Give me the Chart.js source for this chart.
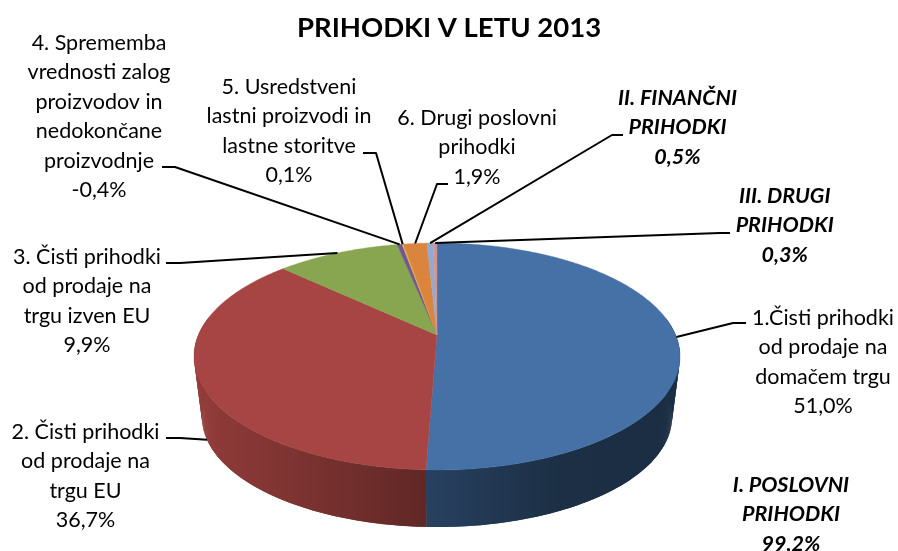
<!DOCTYPE html>
<html>
<head>
<meta charset="utf-8">
<style>html,body{margin:0;padding:0;background:#fff}canvas{display:block}</style>
<script src="https://cdn.jsdelivr.net/npm/chart.js@4"></script>
</head>
<body>
<canvas id="c" width="898" height="551"></canvas>
<script>
const chartTitle = "PRIHODKI V LETU 2013";
const categories = [
  ["1.Čisti prihodki","od prodaje na","domačem trgu"],
  ["2. Čisti prihodki","od prodaje na","trgu EU"],
  ["3. Čisti prihodki","od prodaje na","trgu izven EU"],
  ["4. Sprememba","vrednosti zalog","proizvodov in","nedokončane","proizvodnje"],
  ["5. Usredstveni","lastni proizvodi in","lastne storitve"],
  ["6. Drugi poslovni","prihodki"],
  ["II. FINANČNI","PRIHODKI"],
  ["III. DRUGI","PRIHODKI"]
];
const values = [51.0, 36.7, 9.9, -0.4, 0.1, 1.9, 0.5, 0.3];
const colors = ["#4571a6","#a64543","#88a54f","#71578f","#e3b83c","#db843d","#93a9cf","#d19392"];
const summaryLines = ["I. POSLOVNI","PRIHODKI","99,2%"];

/* layout only */
const labelCenters = [[823,318],[85.5,432],[87,257],[99,43],[289,87],[477,118],[677.5,98],[784.7,196]];
const leaderElbows = [[[746,323],[733,323]],[[166,438],[180,438]],[[166,263],[180,263]],[[162,167],[175,167]],[[363,153],[376,153]],[[448,184],[437,184]],[[623,135],[612,135]],[[730,233],[720,233]]];
const summaryCenter = [791,485];
const boldFrom = 6, LINE = 29.4, FONT = "Lato, Carlito, sans-serif", TEXT_SIZE = 21.5;
const P = {cx:437, cy:335, rx:238.6, ry:109.4, k:0.1894, s:0.967, drop:61.5};
const shadeStops = [[0,0.88],[0.48,0.58],[0.75,0.42],[1,0.40]];

function project(a, bottom){
  const u = Math.cos(a), v = Math.sin(a), w = 1 - P.k*v;
  const s = bottom ? P.s : 1, d = bottom ? P.drop : 0;
  return [P.cx + s*P.rx*u/w, P.cy + d + s*P.ry*v/w];
}
function shade(hex,f){
  const n = parseInt(hex.slice(1),16);
  return `rgb(${((n>>16)&255)*f|0},${((n>>8)&255)*f|0},${(n&255)*f|0})`;
}
function rim(ctx,a0,a1,bottom,first){
  const n = Math.max(2,Math.ceil(Math.abs(a1-a0)/0.008));
  for(let i=0;i<=n;i++){
    const p = project(a0+(a1-a0)*i/n,bottom);
    if(i===0&&first) ctx.moveTo(p[0],p[1]); else ctx.lineTo(p[0],p[1]);
  }
}
const pie3d = {
  id:"pie3d",
  beforeDatasetsDraw(chart){
    const ctx = chart.ctx, arcs = chart.getDatasetMeta(0).data;
    ctx.save();
    const left = P.cx-P.rx*1.02, right = P.cx+P.rx*1.02;
    arcs.forEach((arc,i)=>{
      const g = ctx.createLinearGradient(left,0,right,0);
      shadeStops.forEach(s=>g.addColorStop(s[0],shade(colors[i],s[1])));
      ctx.fillStyle = g;
      const n = Math.max(1,Math.ceil((arc.endAngle-arc.startAngle)/0.01));
      for(let q=0;q<n;q++){
        const a0 = arc.startAngle+(arc.endAngle-arc.startAngle)*q/n;
        const a1 = arc.startAngle+(arc.endAngle-arc.startAngle)*Math.min(n,q+2)/n;
        if(Math.sin(a0) < -0.15 && Math.sin(a1) < -0.15) continue;
        const t0=project(a0,false),t1=project(a1,false),b1=project(a1,true),b0=project(a0,true);
        ctx.beginPath();
        ctx.moveTo(t0[0],t0[1]);ctx.lineTo(t1[0],t1[1]);ctx.lineTo(b1[0],b1[1]);ctx.lineTo(b0[0],b0[1]);
        ctx.closePath();ctx.fill();
      }
    });
    arcs.forEach((arc,i)=>{
      ctx.beginPath();
      ctx.moveTo(P.cx,P.cy);
      rim(ctx,arc.startAngle,arc.endAngle,false,false);
      ctx.closePath();
      ctx.fillStyle = colors[i]; ctx.strokeStyle = colors[i]; ctx.lineWidth = 0.4;
      ctx.fill(); ctx.stroke();
    });
    ctx.restore();
    return false;
  },
  afterDraw(chart){
    const ctx = chart.ctx, arcs = chart.getDatasetMeta(0).data;
    ctx.save();
    ctx.strokeStyle = "#000"; ctx.lineWidth = 2; ctx.lineJoin = "round";
    arcs.forEach((arc,i)=>{
      const mid = (arc.startAngle+arc.endAngle)/2;
      const tip = i===1 ? project(mid,true) : project(mid,false);
      const [a,b] = leaderElbows[i];
      ctx.beginPath();
      ctx.moveTo(a[0],a[1]); ctx.lineTo(b[0],b[1]); ctx.lineTo(tip[0],tip[1]);
      ctx.stroke();
    });
    ctx.textAlign = "center"; ctx.textBaseline = "middle"; ctx.fillStyle = "#000";
    const pct = v => v.toFixed(1).replace(".",",")+"%";
    categories.forEach((lines,i)=>{
      ctx.font = (i>=boldFrom ? "italic bold " : "") + TEXT_SIZE + "px " + FONT;
      const [x,y] = labelCenters[i];
      lines.concat(pct(values[i])).forEach((t,j)=>ctx.fillText(t,x,y+j*LINE));
    });
    ctx.font = "italic bold " + TEXT_SIZE + "px " + FONT;
    summaryLines.forEach((t,j)=>ctx.fillText(t,summaryCenter[0],summaryCenter[1]+j*LINE));
    ctx.restore();
  }
};
new Chart(document.getElementById("c"),{
  type:"pie",
  data:{labels:categories.map(l=>l.join(" ")),datasets:[{data:values.map(Math.abs),backgroundColor:colors,borderWidth:0}]},
  options:{
    responsive:false,animation:false,
    plugins:{
      legend:{display:false},tooltip:{enabled:false},
      title:{display:true,text:chartTitle,color:"#000",font:{family:FONT,size:27.5,weight:"bold"},padding:{top:12,bottom:10}}
    }
  },
  plugins:[pie3d]
});
</script>
</body>
</html>
